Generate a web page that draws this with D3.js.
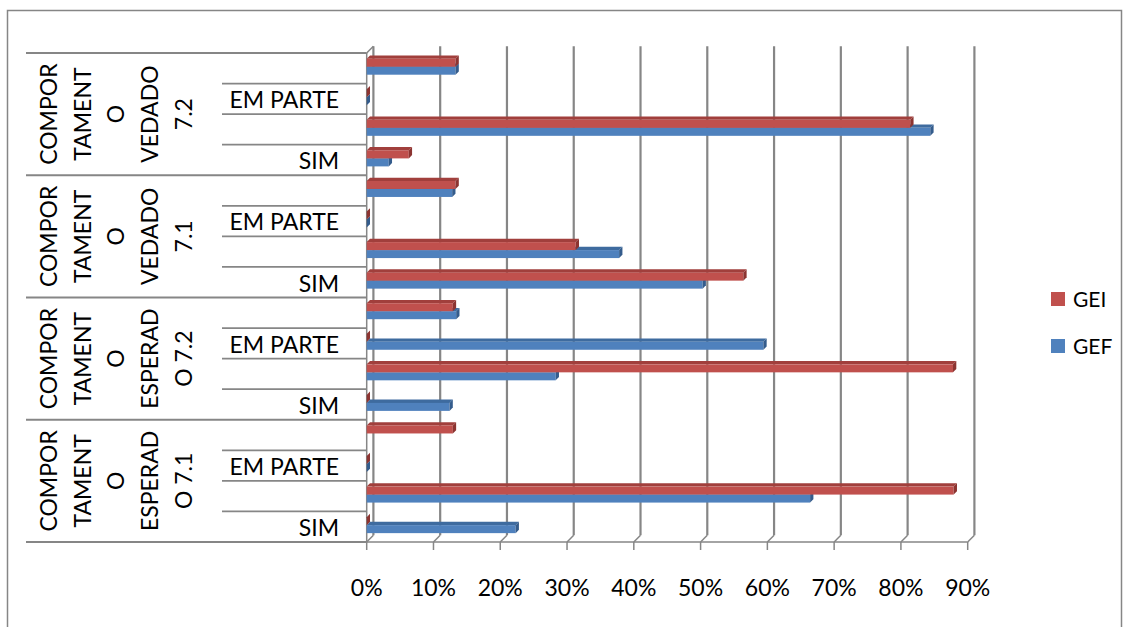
<!DOCTYPE html>
<html><head><meta charset="utf-8">
<script src="https://cdn.jsdelivr.net/npm/d3@7"></script>
<style>html,body{margin:0;padding:0;background:#fff;} svg{display:block;font-family:Lato,'Open Sans',sans-serif;}</style>
</head><body><svg id="c" width="1129" height="627"></svg>
<script>
// ---- data ----
const groups = ["COMPORTAMENTO ESPERADO 7.1", "COMPORTAMENTO ESPERADO 7.2", "COMPORTAMENTO VEDADO 7.1", "COMPORTAMENTO VEDADO 7.2"];
const groupLines = [
  ["COMPOR", "TAMENT", "O", "ESPERAD", "O 7.1"],
  ["COMPOR", "TAMENT", "O", "ESPERAD", "O 7.2"],
  ["COMPOR", "TAMENT", "O", "VEDADO", "7.1"],
  ["COMPOR", "TAMENT", "O", "VEDADO", "7.2"]
];
const answers = ["SIM", "NÃO", "EM PARTE", "NÃO SE APLICA"];
const shownAnswers = ["SIM", "EM PARTE"]; // the axis skips every other label
const seriesNames = ["GEI", "GEF"];
const gefValues = [22.3, 66.4, 0, null, 12.4, 28.3, 59.4, 13.4, 50.3, 37.8, 0, 12.8, 3.3, 84.4, 0, 13.3];
const geiValues = [0, 87.9, 0, 12.9, 0, 87.8, 0, 12.9, 56.4, 31.3, 0, 13.3, 6.3, 81.4, 0, 13.3];
const tickValues = [0, 10, 20, 30, 40, 50, 60, 70, 80, 90];
const tickLabels = ["0%", "10%", "20%", "30%", "40%", "50%", "60%", "70%", "80%", "90%"];

const colors = {
  GEI: {front: "#C0504D", top: "#A13F3C", side: "#8C3431"},
  GEF: {front: "#4F81BD", top: "#3E6B9F", side: "#345C8C"}
};
const valuesBySeries = {GEI: geiValues, GEF: gefValues};

// ---- chart ----
const svg = d3.select("#c");
const grid = "#868686";
svg.append("rect").attr("x", 7.5).attr("y", 10.5).attr("width", 1114).attr("height", 700)
  .attr("fill", "#fff").attr("stroke", grid).attr("stroke-width", 1.5);

const keys = [];
groups.forEach(g => answers.forEach(a => keys.push(g + "|" + a)));

const x = d3.scaleLinear().domain([0, 90]).range([366.7, 967.7]);
const y = d3.scaleBand().domain(keys).range([542, 53]);
const bw = y.bandwidth();
const inner = d3.scaleBand().domain(seriesNames).range([bw * 0.187, bw * 0.71]);
const D = 6.7, bd = 3.3;
const yTop = 53, yBot = 542;

const g = svg.append("g");
// back gridlines
g.selectAll("line.grid").data(tickValues).join("line").attr("class", "grid")
  .attr("x1", d => x(d) + D).attr("x2", d => x(d) + D)
  .attr("y1", yTop - D).attr("y2", yBot - D)
  .attr("stroke", grid).attr("stroke-width", 2.2);
// floor diagonals
g.selectAll("line.diag").data(tickValues).join("line").attr("class", "diag")
  .attr("x1", d => x(d)).attr("x2", d => x(d) + D)
  .attr("y1", yBot).attr("y2", yBot - D)
  .attr("stroke", grid).attr("stroke-width", 1.5);
// ticks below floor
g.selectAll("line.tick").data(tickValues).join("line").attr("class", "tick")
  .attr("x1", d => x(d)).attr("x2", d => x(d))
  .attr("y1", yBot).attr("y2", yBot + 8)
  .attr("stroke", grid).attr("stroke-width", 1.5);
// floor front edge
g.append("line").attr("x1", x(0)).attr("x2", x(90)).attr("y1", yBot).attr("y2", yBot)
  .attr("stroke", grid).attr("stroke-width", 1.5);
// left wall front edge and top diagonal
g.append("line").attr("x1", x(0)).attr("x2", x(0)).attr("y1", yTop).attr("y2", yBot)
  .attr("stroke", grid).attr("stroke-width", 1.5);
g.append("line").attr("x1", x(0)).attr("x2", x(0) + D).attr("y1", yTop).attr("y2", yTop - D)
  .attr("stroke", grid).attr("stroke-width", 1.5);

// category table lines
const boundaries = [];
keys.forEach((k, i) => boundaries.push({y: y(k) + bw, group: i % answers.length === 0}));
boundaries.push({y: y(keys[keys.length - 1]), group: true});
g.selectAll("line.cat").data(boundaries).join("line").attr("class", "cat")
  .attr("x1", d => d.group ? 26 : 222).attr("x2", x(0))
  .attr("y1", d => d.y).attr("y2", d => d.y)
  .attr("stroke", grid).attr("stroke-width", 1.8);

// bars (GEF first so GEI front faces overlap GEF top faces)
const barData = [];
["GEF", "GEI"].forEach(s => keys.forEach((k, i) => {
  const v = valuesBySeries[s][i];
  if (v === null) return;
  barData.push({s, k, v});
}));
const bars = g.selectAll("g.bar").data(barData).join("g").attr("class", "bar");
bars.each(function(d) {
  const sel = d3.select(this);
  const yb = y(d.k) + inner(d.s), h = inner.bandwidth();
  const x0 = x(0), x1 = x(d.v);
  sel.append("polygon").attr("points", [[x0, yb], [x0 + bd, yb - bd], [x1 + bd, yb - bd], [x1, yb]].join(" "))
    .attr("fill", colors[d.s].top);
  sel.append("rect").attr("x", x0).attr("y", yb).attr("width", x1 - x0).attr("height", h)
    .attr("fill", colors[d.s].front);
  sel.append("polygon").attr("points", [[x1, yb], [x1 + bd, yb - bd], [x1 + bd, yb + h - bd], [x1, yb + h]].join(" "))
    .attr("fill", colors[d.s].side);
});

// group labels
const fs = 23, capHalf = 8.3;
groups.forEach((grp, gi) => {
  const first = keys[gi * answers.length], last = keys[gi * answers.length + answers.length - 1];
  const cy = (y(first) + bw + y(last)) / 2;
  groupLines[gi].forEach((ln, li) => {
    const cx = 48.5 + li * 33.8;
    svg.append("text").attr("transform", `translate(${cx + capHalf},${cy}) rotate(-90)`)
      .attr("text-anchor", "middle").attr("font-size", fs).attr("fill", "#000").text(ln);
  });
});
// answer labels
svg.selectAll("text.ans").data(keys.filter(k => shownAnswers.includes(k.split("|")[1]))).join("text")
  .attr("class", "ans").attr("x", 339).attr("y", k => y(k) + bw / 2 + capHalf + 1)
  .attr("text-anchor", "end").attr("font-size", fs).attr("fill", "#000").text(k => k.split("|")[1]);
// x tick labels
svg.selectAll("text.xt").data(tickValues).join("text").attr("class", "xt")
  .attr("x", d => x(d)).attr("y", 596).attr("text-anchor", "middle")
  .attr("font-size", fs).attr("fill", "#000").text((d, i) => tickLabels[i]);

// legend
const leg = svg.append("g");
seriesNames.forEach((s, i) => {
  const ly = 292 + i * 47;
  leg.append("rect").attr("x", 1051).attr("y", ly).attr("width", 14).attr("height", 14).attr("fill", colors[s].front);
  leg.append("text").attr("x", 1073).attr("y", ly + 7 + 7.6).attr("font-size", 21).attr("fill", "#000").text(s);
});
</script></body></html>
